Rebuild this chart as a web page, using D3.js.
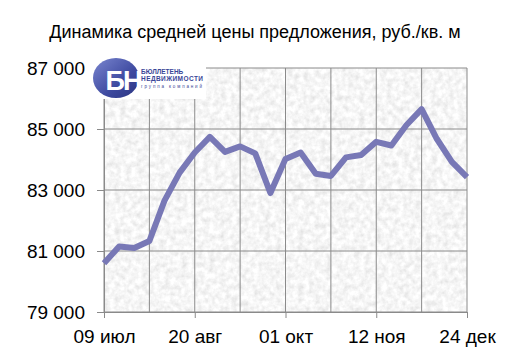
<!DOCTYPE html>
<meta charset="utf-8">
<html>
<head>
<script src="https://d3js.org/d3.v7.min.js"></script>
<style>
  body { margin: 0; background: #fff; }
  text { font-family: "Liberation Sans", Arial, sans-serif; }
</style>
</head>
<body>
<div id="my_dataviz"></div>
<script>

// weekly dates, 09 Jul .. 24 Dec
var weeks = d3.range(25);
var prices = [80600, 81150, 81100, 81330, 82650, 83570, 84230, 84740, 84250, 84430,
              84200, 82900, 84020, 84230, 83530, 83460, 84070, 84150, 84580, 84460,
              85130, 85650, 84680, 83920, 83420];
var xTickWeeks = [0, 6, 12, 18, 24];
var xTickLabels = ["09 июл", "20 авг", "01 окт", "12 ноя", "24 дек"];
var yTicks = [79000, 81000, 83000, 85000, 87000];

var margin = {top: 68, right: 43, bottom: 49, left: 104},
    width = 510 - margin.left - margin.right,
    height = 361 - margin.top - margin.bottom;

var svgRoot = d3.select("#my_dataviz")
  .append("svg")
    .attr("width", 510)
    .attr("height", 361);

// granite-like texture
var defs = svgRoot.append("defs");
var f = defs.append("filter").attr("id", "granite")
  .attr("x", 0).attr("y", 0).attr("width", 1).attr("height", 1);
f.append("feTurbulence")
  .attr("type", "fractalNoise")
  .attr("baseFrequency", "0.18")
  .attr("numOctaves", 3)
  .attr("seed", 4);
f.append("feColorMatrix")
  .attr("type", "matrix")
  .attr("values", "0.4 0 0 0 0.72  0.4 0 0 0 0.72  0.4 0 0 0 0.72  0 0 0 0 1");

var lg = defs.append("linearGradient").attr("id", "logoGrad")
  .attr("x1", 0).attr("y1", 0).attr("x2", 1).attr("y2", 1);
lg.append("stop").attr("offset", "0%").attr("stop-color", "#7a86d0");
lg.append("stop").attr("offset", "60%").attr("stop-color", "#3e4aa0");
lg.append("stop").attr("offset", "100%").attr("stop-color", "#2a3480");

var svg = svgRoot.append("g")
  .attr("transform", "translate(" + margin.left + "," + margin.top + ")");

var x = d3.scaleLinear().domain([0, 24]).range([0, width]);
var y = d3.scaleLinear().domain([79000, 87000]).range([height, 0]);

svg.append("rect")
  .attr("width", width)
  .attr("height", height)
  .attr("fill", "#eee")
  .attr("filter", "url(#granite)");

// grid
svg.selectAll(".vgrid")
  .data(d3.range(0, 25, 3))
  .enter().append("line")
    .attr("x1", function(d) { return x(d); })
    .attr("x2", function(d) { return x(d); })
    .attr("y1", 0).attr("y2", height)
    .attr("stroke", "#8a8a8a").attr("stroke-width", 1);
svg.selectAll(".hgrid")
  .data(yTicks)
  .enter().append("line")
    .attr("x1", 0).attr("x2", width)
    .attr("y1", function(d) { return y(d); })
    .attr("y2", function(d) { return y(d); })
    .attr("stroke", "#8a8a8a").attr("stroke-width", 1);

// Y axis
var yAxis = svg.append("g")
  .call(d3.axisLeft(y).tickValues(yTicks).tickSize(7).tickPadding(12)
    .tickFormat(function(d) { return d3.format(",")(d).replace(",", " "); }));
yAxis.select(".domain").attr("stroke", "#8a8a8a");
yAxis.selectAll("line").attr("stroke", "#8a8a8a");
yAxis.selectAll("text").attr("font-size", 19).attr("fill", "#000")
  .style("font-family", "Liberation Sans, Arial, sans-serif");

// X axis
var xAxis = svg.append("g")
  .attr("transform", "translate(0," + height + ")")
  .call(d3.axisBottom(x).tickValues(xTickWeeks).tickSize(6).tickPadding(12)
    .tickFormat(function(d, i) { return xTickLabels[i]; }));
xAxis.select(".domain").attr("stroke", "#8a8a8a");
xAxis.selectAll("line").attr("stroke", "#8a8a8a");
xAxis.selectAll("text").attr("font-size", 19).attr("fill", "#000")
  .style("font-family", "Liberation Sans, Arial, sans-serif");

// price line
svg.append("path")
  .datum(prices)
  .attr("fill", "none")
  .attr("stroke", "#7878b6")
  .attr("stroke-width", 6)
  .attr("stroke-linejoin", "round")
  .attr("d", d3.line()
    .x(function(d, i) { return x(weeks[i]); })
    .y(function(d) { return y(d); }));

// title
svgRoot.append("text")
  .attr("x", 255).attr("y", 38)
  .attr("text-anchor", "middle")
  .attr("font-size", 18)
  .attr("fill", "#000")
  .text("Динамика средней цены предложения, руб./кв. м");

// logo
var logo = svgRoot.append("g");
logo.append("rect").attr("x", 93).attr("y", 57).attr("width", 113).attr("height", 42).attr("fill", "#fff");
logo.append("ellipse").attr("cx", 116).attr("cy", 78).attr("rx", 23).attr("ry", 20).attr("fill", "url(#logoGrad)");
logo.append("text").attr("x", 123).attr("y", 90).attr("text-anchor", "middle")
  .attr("font-size", 27).attr("font-weight", "bold").attr("fill", "#fff")
  .attr("letter-spacing", -2).text("БН");
logo.append("text").attr("x", 141).attr("y", 74).attr("font-size", 6.5).attr("font-weight", "bold")
  .attr("fill", "#3a4698").text("БЮЛЛЕТЕНЬ");
logo.append("text").attr("x", 141).attr("y", 81).attr("font-size", 6.5).attr("font-weight", "bold")
  .attr("fill", "#3a4698").attr("textLength", 62).text("НЕДВИЖИМОСТИ");
logo.append("text").attr("x", 141).attr("y", 88).attr("font-size", 4.5)
  .attr("fill", "#3a4698").attr("textLength", 62).attr("letter-spacing", 1).text("группа компаний");

</script>
</body>
</html>
